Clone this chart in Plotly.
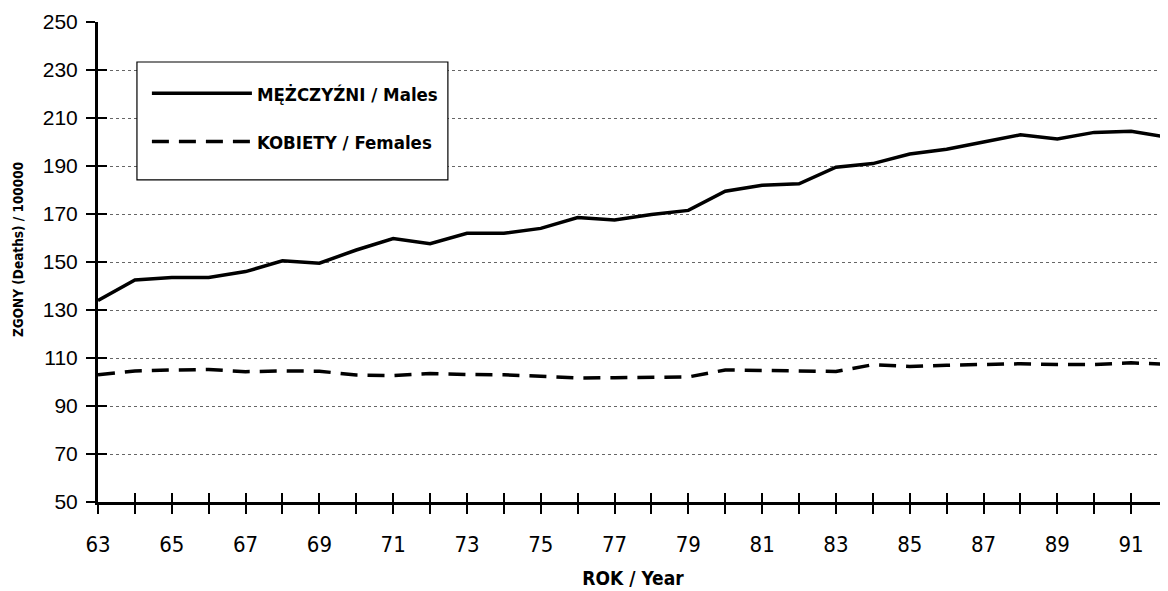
import plotly.graph_objects as go

years = list(range(1963, 1993))
males = [134, 142.5, 143.5, 143.5, 146, 150.5, 149.5, 155, 159.8, 157.6,
         162, 162, 164, 168.5, 167.5, 169.8, 171.5, 179.5, 182, 182.6,
         189.5, 191, 195, 197, 200, 203, 201.3, 204, 204.5, 202]
females = [103, 104.6, 105, 105.2, 104.3, 104.6, 104.5, 102.9, 102.7, 103.5,
           103.1, 103, 102.4, 101.7, 101.8, 101.9, 102.1, 105, 104.7, 104.6,
           104.4, 107.2, 106.5, 107, 107.4, 107.6, 107.3, 107.3, 108, 107.3]

y_ticks = list(range(50, 251, 20))
x_tickvals = list(range(1963, 1993))
x_ticktext = [str(y % 100) if y % 2 == 1 else "" for y in x_tickvals]

narrow = "DejaVu Sans Condensed, Liberation Sans Narrow, Arial Narrow, Liberation Sans, sans-serif"

fig = go.Figure()
fig.add_trace(go.Scatter(
    x=years, y=males, mode="lines", name="<b>MĘŻCZYŹNI / Males</b>",
    line=dict(color="black", width=3.5), legendgroup="m"))
fig.add_trace(go.Scatter(
    x=years, y=females, mode="lines", name="<b>KOBIETY / Females</b>",
    line=dict(color="black", width=3.5, dash="17px,10px"), legendgroup="f"))
fig.add_trace(go.Scatter(x=[], y=[], xaxis="x2", yaxis="y2", showlegend=False))

# legend frame (decoration, paper coordinates)
fig.add_shape(type="rect", xref="paper", yref="paper",
              x0=0.0364, x1=0.327, y0=0.671, y1=0.9167,
              line=dict(color="black", width=1.2), fillcolor="white", layer="above")

# y-axis title placed as annotation for exact position
fig.add_annotation(text="<b>ZGONY (Deaths) / 100000</b>", xref="paper", yref="paper",
                   x=-0.0748, y=0.527, textangle=-90, showarrow=False,
                   xanchor="center", yanchor="middle",
                   font=dict(family=narrow, size=13.5, color="black"))

fig.update_layout(
    width=1160, height=583,
    margin=dict(l=90, r=0, t=14, b=89),
    paper_bgcolor="white", plot_bgcolor="white",
    showlegend=True,
    legend=dict(
        x=0.0457, y=0.890, xanchor="left", yanchor="top",
        bgcolor="rgba(0,0,0,0)", borderwidth=0,
        font=dict(family=narrow, size=18.5, color="black"),
        itemwidth=100, tracegroupgap=21, traceorder="grouped",
        itemclick=False,
    ),
    xaxis=dict(
        range=[1963, 1992], tickmode="array", tickvals=x_tickvals, ticktext=x_ticktext,
        ticks="outside", ticklen=9, tickwidth=2, tickcolor="black",
        showline=True, linewidth=3, linecolor="black",
        showgrid=False, zeroline=False,
        tickfont=dict(family=narrow, size=22, color="black"),
        ticklabelstandoff=12,
        title=dict(text="<b>ROK / Year</b>", font=dict(family=narrow, size=19, color="black"), standoff=16),
    ),
    yaxis=dict(
        range=[50, 250], tickmode="array", tickvals=y_ticks,
        ticks="outside", ticklen=9, tickwidth=2, tickcolor="black",
        showline=True, linewidth=3, linecolor="black",
        showgrid=True, gridcolor="#666666", gridwidth=1, griddash="dot",
        zeroline=False,
        tickfont=dict(family="Liberation Sans, Arial, sans-serif", size=21, color="black"),
        ticklabelstandoff=4,
    ),
    xaxis2=dict(
        range=[1963, 1992], overlaying="x", anchor="y2", tickmode="array", tickvals=x_tickvals,
        ticks="inside", ticklen=9, tickwidth=2, tickcolor="black", showticklabels=False,
        showgrid=False, zeroline=False, side="bottom",
    ),
    yaxis2=dict(
        range=[50, 250], overlaying="y", anchor="x2", tickmode="array", tickvals=y_ticks,
        ticks="inside", ticklen=9, tickwidth=2, tickcolor="black", showticklabels=False,
        showgrid=False, zeroline=False, side="left",
    ),
)

fig.write_html("out.html")
